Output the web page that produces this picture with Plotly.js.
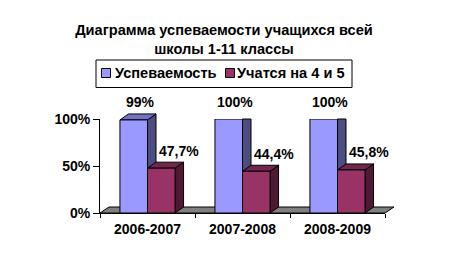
<!DOCTYPE html>
<html>
<head>
<meta charset="utf-8">
<script src="https://cdn.plot.ly/plotly-3.0.1.min.js"></script>
<style>html,body{margin:0;padding:0;background:#fff;}#chart{width:452px;height:260px;}</style>
</head>
<body>
<div id="chart"></div>
<script>
// ---- data ----
const categories = ['2006-2007', '2007-2008', '2008-2009'];
const seriesNames = ['Успеваемость', 'Учатся на 4 и 5'];
const successRate = [99, 100, 100];
const topGrades = [47.7, 44.4, 45.8];
const yTickVals = [0, 50, 100];
const yTickText = ['0%', '50%', '100%'];
const chartTitle = 'Диаграмма успеваемости учащихся всей<br>школы 1-11 классы';

// ---- geometry / style ----
const W = 452, H = 260, L = 100, R = 67, T = 119, B = 47;
const PW = W - L - R, PH = H - T - B;
const YMAX = 100;
const BARGAP = 0.42;
const DX = 8.5, DY = 6;          // 3D depth in px
const FONT = '"Liberation Sans", Arial, sans-serif';
const fronts = ['#9999FF', '#993366'];
const sides = ['#4D4D80', '#4D1933'];
const tops = ['#7373C6', '#73264D'];

const nCat = categories.length;
const bw = (1 - BARGAP) / 2;
const xp = x => (x + 0.5) / nCat;          // category coord -> paper
const yp = y => y / YMAX;                   // value -> paper
const pxX = px => (px - L) / PW;            // pixel -> paper
const pxY = py => (H - B - py) / PH;
const dxp = DX / PW, dyp = DY / PH;

const shapes = [];
// floor
const fdx = 9 / PW, fdy = 6 / PH;
shapes.push({type: 'path', xref: 'paper', yref: 'paper', layer: 'below',
  path: `M 0 0 L 1 0 L ${1 + fdx} ${fdy} L ${fdx} ${fdy} Z`,
  fillcolor: '#808080', line: {color: '#000', width: 1}});

function addFaces(values, s) {
  values.forEach((v, i) => {
    const xl = xp(i - bw + s * bw), xr = xp(i + s * bw);
    const clip = v >= YMAX;
    const top = yp(Math.min(v, YMAX));
    const topBack = clip ? top : top + dyp;
    shapes.push({type: 'path', xref: 'paper', yref: 'paper', layer: 'below',
      path: `M ${xr} 0 L ${xr + dxp} ${dyp} L ${xr + dxp} ${topBack} L ${xr} ${top} Z`,
      fillcolor: sides[s], line: {color: '#000', width: 1}});
    if (!clip) {
      shapes.push({type: 'path', xref: 'paper', yref: 'paper', layer: 'below',
        path: `M ${xl} ${top} L ${xl + dxp} ${top + dyp} L ${xr + dxp} ${top + dyp} L ${xr} ${top} Z`,
        fillcolor: tops[s], line: {color: '#000', width: 1}});
    }
  });
}
addFaces(successRate, 0);
addFaces(topGrades, 1);

// manual legend
shapes.push({type: 'rect', xref: 'paper', yref: 'paper', x0: pxX(96), x1: pxX(352), y0: pxY(60), y1: pxY(87.5),
  fillcolor: '#fff', line: {color: '#000', width: 1}});
shapes.push({type: 'rect', xref: 'paper', yref: 'paper', x0: pxX(101.5), x1: pxX(110.5), y0: pxY(68.5), y1: pxY(77.5),
  fillcolor: fronts[0], line: {color: '#000', width: 1}});
shapes.push({type: 'rect', xref: 'paper', yref: 'paper', x0: pxX(225.5), x1: pxX(234.5), y0: pxY(68.5), y1: pxY(77.5),
  fillcolor: fronts[1], line: {color: '#000', width: 1}});

const annotations = [];
const fmt = v => String(v).replace('.', ',') + '%';
[[successRate, 0, 6.5], [topGrades, 1, 17.5]].forEach(([vals, s, xs]) => {
  vals.forEach((v, i) => {
    annotations.push({xref: 'paper', yref: 'paper', x: xp(i - bw / 2 + s * bw), y: yp(Math.min(v, YMAX)),
      xshift: xs, yshift: 17.5, yanchor: 'middle', xanchor: 'center', showarrow: false,
      text: fmt(v), font: {family: FONT, size: 14, weight: 'bold', color: '#000'}});
  });
});
annotations.push({xref: 'paper', yref: 'paper', x: pxX(113), y: pxY(73), xanchor: 'left', yanchor: 'middle',
  showarrow: false, text: seriesNames[0], font: {family: FONT, size: 14.6, weight: 'bold', color: '#000'}});
annotations.push({xref: 'paper', yref: 'paper', x: pxX(235), y: pxY(73), xanchor: 'left', yanchor: 'middle',
  showarrow: false, text: seriesNames[1], font: {family: FONT, size: 14.6, weight: 'bold', color: '#000'}});

const traces = [successRate, topGrades].map((vals, s) => ({
  type: 'bar', name: seriesNames[s], x: categories, y: vals.map(v => Math.min(v, YMAX)),
  marker: {color: fronts[s], line: {color: '#000', width: 1}}, hoverinfo: 'skip', cliponaxis: false
}));

const layout = {
  width: W, height: H,
  margin: {l: L, r: R, t: T, b: B, pad: 0},
  paper_bgcolor: '#fff', plot_bgcolor: 'rgba(0,0,0,0)',
  showlegend: false,
  barmode: 'group', bargap: BARGAP, bargroupgap: 0,
  title: {text: chartTitle, xref: 'container', yref: 'container', x: 224 / W, xanchor: 'center',
    y: (H - 35) / H, yanchor: 'middle', font: {family: FONT, size: 14.6, weight: 'bold', color: '#000'}},
  xaxis: {type: 'category', range: [-0.5, nCat - 0.5], showline: true, linecolor: '#000', linewidth: 1,
    ticks: 'outside', tickson: 'boundaries', ticklen: 4, tickcolor: '#000', showgrid: false, zeroline: false,
    ticklabelstandoff: 3,
    tickfont: {family: FONT, size: 14, weight: 'bold', color: '#000'}, fixedrange: true},
  yaxis: {range: [0, YMAX], tickvals: yTickVals, ticktext: yTickText, showline: true, linecolor: '#000', linewidth: 1,
    ticks: 'outside', ticklen: 6, tickcolor: '#000', showgrid: false, zeroline: false,
    tickfont: {family: FONT, size: 14, weight: 'bold', color: '#000'}, fixedrange: true},
  shapes: shapes, annotations: annotations
};

Plotly.newPlot('chart', traces, layout, {displayModeBar: false, staticPlot: true});
</script>
</body>
</html>
